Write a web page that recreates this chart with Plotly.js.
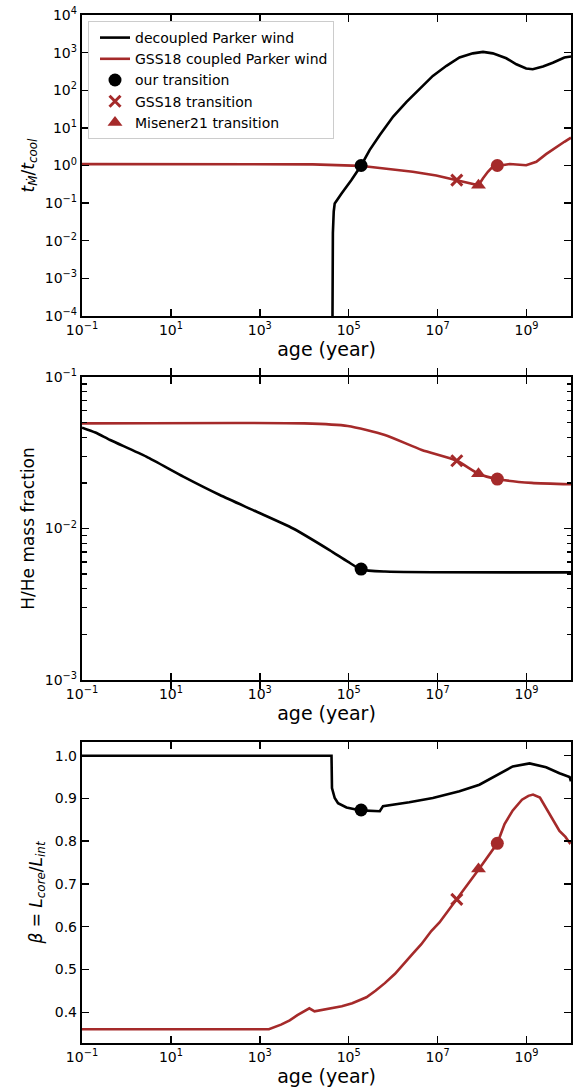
<!DOCTYPE html>
<html><head><meta charset="utf-8">
<script src="https://cdn.plot.ly/plotly-3.0.1.min.js"></script>
<style>html,body{margin:0;padding:0;background:#fff}#plot{width:575px;height:1088px}</style>
</head><body><div id="plot"></div>
<script>
// ---------- data ----------
// Panel 1: t_Mdot / t_cool
var p1DecAge = [4.2e4, 4.22e4, 4.3e4, 4.4e4, 4.6e4, 4.84e4, 6.9e4, 1.15e5, 1.9e5, 2.95e5, 5e5, 1e6, 2e6, 4e6, 7.8e6, 1.58e7, 3.1e7, 6.2e7, 1.05e8, 1.74e8, 3.5e8, 5.9e8, 9.8e8, 1.38e9, 2.34e9, 3.9e9, 5.5e9, 7.1e9, 1e10];
var p1DecVal = [1e-7, 1e-4, 1.5e-3, 0.016, 0.06, 0.098, 0.18, 0.41, 1.0, 2.57, 6.5, 20, 49, 112, 240, 447, 741, 955, 1047, 955, 708, 490, 380, 363, 427, 537, 631, 741, 790];
var p1CopAge = [0.1, 2.8e3, 1.55e4, 1.8e5, 7e5, 2.75e6, 9.3e6, 2.7e7, 8.3e7, 1.05e8, 1.35e8, 1.74e8, 2.3e8, 4.2e8, 9.8e8, 1.66e9, 2.75e9, 4.7e9, 7.1e9, 1e10];
var p1CopVal = [1.09, 1.09, 1.07, 0.98, 0.83, 0.68, 0.54, 0.41, 0.30, 0.46, 0.68, 0.93, 0.98, 1.1, 1.02, 1.26, 2.0, 3.16, 4.27, 5.5];
// Panel 2: H/He mass fraction
var p2DecAge = [0.1, 0.2, 0.43, 2.8, 19, 126, 850, 5.6e3, 3.7e4, 9.5e4, 1.9e5, 6.5e5, 1e10];
var p2DecVal = [0.0463, 0.043, 0.0384, 0.0298, 0.022, 0.01664, 0.0129, 0.0100, 0.0072, 0.00604, 0.00537, 0.0052, 0.00513];
var p2CopAge = [0.1, 1e4, 9.5e4, 6.5e5, 4.4e6, 2.7e7, 8.3e7, 2.2e8, 1.3e9, 1e10];
var p2CopVal = [0.0494, 0.0494, 0.0475, 0.0414, 0.033, 0.028, 0.023, 0.0212, 0.0200, 0.0196];
// Panel 3: beta = L_core / L_int
var p3DecAge = [0.1, 4.1e4, 4.2e4, 4.84e4, 5.75e4, 8.9e4, 1.86e5, 5e5, 5.9e5, 2.3e6, 7.8e6, 3.1e7, 8.7e7, 2.45e8, 4.9e8, 1.17e9, 2.75e9, 5.5e9, 9.3e9, 1e10];
var p3DecVal = [1.0, 1.0, 0.924, 0.901, 0.889, 0.879, 0.872, 0.870, 0.882, 0.891, 0.901, 0.917, 0.932, 0.957, 0.975, 0.982, 0.973, 0.959, 0.95, 0.94];
var p3CopAge = [0.1, 1.6e3, 3e3, 4.7e3, 7e3, 1e4, 1.3e4, 1.7e4, 2.5e4, 3.7e4, 7e4, 1.2e5, 2.5e5, 4e5, 6.5e5, 1.1e6, 1.7e6, 2.7e6, 4.3e6, 7.2e6, 1.1e7, 2.7e7, 8.3e7, 2.2e8, 3.2e8, 4.9e8, 7.9e8, 1.1e9, 1.4e9, 2e9, 2.75e9, 4e9, 5.5e9, 7.5e9, 9.3e9, 1e10];
var p3CopVal = [0.36, 0.36, 0.371, 0.381, 0.393, 0.402, 0.409, 0.402, 0.405, 0.408, 0.414, 0.421, 0.435, 0.45, 0.468, 0.49, 0.513, 0.536, 0.559, 0.59, 0.61, 0.664, 0.733, 0.795, 0.84, 0.872, 0.897, 0.906, 0.909, 0.902, 0.878, 0.85, 0.824, 0.81, 0.796, 0.80];
// transition markers (age, value per panel)
var ourDecAge = 1.9e5;   var ourDecVals = [1.0, 0.0054, 0.873];
var gssAge = 2.7e7;      var gssVals = [0.41, 0.028, 0.664];
var misAge = 8.3e7;      var misVals = [0.30, 0.023, 0.735];
var ourCopAge = 2.2e8;   var ourCopVals = [1.0, 0.0212, 0.795];
// tick labels
var xTickVals = [0.1, 10, 1e3, 1e5, 1e7, 1e9];
var xTickText = ['10<sup>\u22121</sup>', '10<sup>1</sup>', '10<sup>3</sup>', '10<sup>5</sup>', '10<sup>7</sup>', '10<sup>9</sup>'];
var y1TickVals = [1e-4, 1e-3, 1e-2, 1e-1, 1, 10, 100, 1e3, 1e4];
var y1TickText = ['10<sup>\u22124</sup>', '10<sup>\u22123</sup>', '10<sup>\u22122</sup>', '10<sup>\u22121</sup>', '10<sup>0</sup>', '10<sup>1</sup>', '10<sup>2</sup>', '10<sup>3</sup>', '10<sup>4</sup>'];
var y2TickVals = [1e-3, 1e-2, 1e-1];
var y2TickText = ['10<sup>\u22123</sup>', '10<sup>\u22122</sup>', '10<sup>\u22121</sup>'];
var y2MinorTickVals = [0.002, 0.003, 0.004, 0.005, 0.006, 0.007, 0.008, 0.009, 0.02, 0.03, 0.04, 0.05, 0.06, 0.07, 0.08, 0.09];
var legendNames = ['decoupled Parker wind', 'GSS18 coupled Parker wind', 'our transition', 'GSS18 transition', 'Misener21 transition'];

// ---------- styling ----------
var BLACK = '#000000', RED = '#a52a2a';
var FONT = 'DejaVu Sans, sans-serif';
var LW = 2.6;
var traces = [];
var axSuffix = ['', '2', '3'];
var decAges = [p1DecAge, p2DecAge, p3DecAge], decVals = [p1DecVal, p2DecVal, p3DecVal];
var copAges = [p1CopAge, p2CopAge, p3CopAge], copVals = [p1CopVal, p2CopVal, p3CopVal];
var shapes = ['linear', 'spline', 'linear'];
for (var i = 0; i < 3; i++) {
  var xa = 'x' + axSuffix[i], ya = 'y' + axSuffix[i];
  var leg = (i === 0);
  traces.push({x: decAges[i], y: decVals[i], xaxis: xa, yaxis: ya, mode: 'lines', name: legendNames[0], showlegend: leg,
    line: {color: BLACK, width: LW, shape: shapes[i], smoothing: 0.6}});
  traces.push({x: copAges[i], y: copVals[i], xaxis: xa, yaxis: ya, mode: 'lines', name: legendNames[1], showlegend: leg,
    line: {color: RED, width: LW, shape: shapes[i], smoothing: 0.6}});
  traces.push({x: [ourDecAge], y: [ourDecVals[i]], xaxis: xa, yaxis: ya, mode: 'markers', name: legendNames[2], showlegend: leg,
    marker: {color: BLACK, size: 13, symbol: 'circle'}});
  traces.push({x: [gssAge], y: [gssVals[i]], xaxis: xa, yaxis: ya, mode: 'markers', name: legendNames[3], showlegend: leg,
    marker: {color: RED, size: 11, symbol: 'x-thin', line: {color: RED, width: 3}}});
  traces.push({x: [misAge], y: [misVals[i]], xaxis: xa, yaxis: ya, mode: 'markers', name: legendNames[4], showlegend: leg,
    marker: {color: RED, size: 13, symbol: 'triangle-up'}});
  traces.push({x: [ourCopAge], y: [ourCopVals[i]], xaxis: xa, yaxis: ya, mode: 'markers', showlegend: false,
    marker: {color: RED, size: 13, symbol: 'circle'}});
}
// empty helper trace so the minor-tick axis of panel 2 is drawn
traces.push({x: [], y: [], xaxis: 'x2', yaxis: 'y4', mode: 'lines', showlegend: false, hoverinfo: 'skip'});

var W = 575, H = 1088;
var xDom = [82 / W, 571 / W];
function yDom(top, bot) { return [1 - bot / H, 1 - top / H]; }
var common = {showline: true, linecolor: BLACK, linewidth: 2.2, mirror: 'allticks', ticks: 'inside', ticklen: 7, tickwidth: 1.4,
  tickcolor: BLACK, showgrid: false, zeroline: false, tickfont: {family: FONT, size: 14, color: BLACK}};
function xAxis(anchor) {
  return Object.assign({}, common, {type: 'log', range: [-1, 10], domain: xDom, anchor: anchor,
    tickvals: xTickVals, ticktext: xTickText,
    title: {text: 'age (year)', font: {family: FONT, size: 19, color: BLACK}, standoff: 2}});
}
var layout = {
  width: W, height: H, margin: {l: 0, r: 0, t: 0, b: 0}, paper_bgcolor: '#fff', plot_bgcolor: '#fff',
  font: {family: FONT, color: BLACK},
  showlegend: true,
  legend: {x: 88 / W, y: 1 - 21 / H, xanchor: 'left', yanchor: 'top', bgcolor: 'rgba(255,255,255,0.85)', bordercolor: '#cccccc', borderwidth: 1,
    font: {family: FONT, size: 14, color: BLACK}, tracegroupgap: 0, indentation: 6},
  xaxis: xAxis('y'), xaxis2: xAxis('y2'), xaxis3: xAxis('y3'),
  yaxis: Object.assign({}, common, {type: 'log', range: [-4, 4], domain: yDom(15, 316), anchor: 'x',
    tickvals: y1TickVals, ticktext: y1TickText,
    title: {text: '<i>t</i><sub><i>\u1E40</i></sub>/<i>t</i><sub><i>cool</i></sub>', font: {family: FONT, size: 17, color: BLACK}, standoff: 6}}),
  yaxis2: Object.assign({}, common, {type: 'log', range: [-3, -1], domain: yDom(377, 680), anchor: 'x2',
    tickvals: y2TickVals, ticktext: y2TickText,
    title: {text: 'H/He mass fraction', font: {family: FONT, size: 17, color: BLACK}, standoff: 6}}),
  // minor ticks of panel 2 drawn by an overlaying axis with no labels
  yaxis4: {type: 'log', range: [-3, -1], overlaying: 'y2', anchor: 'x2', side: 'left', tickvals: y2MinorTickVals,
    ticks: 'inside', ticklen: 4.5, tickwidth: 1.3, tickcolor: BLACK, mirror: 'allticks', showline: true, linecolor: BLACK, linewidth: 2.2,
    showticklabels: false, showgrid: false, zeroline: false},
  yaxis3: Object.assign({}, common, {type: 'linear', range: [0.328, 1.032], domain: yDom(742, 1043), anchor: 'x3',
    dtick: 0.1, tick0: 0, tickformat: '.1f',
    title: {text: '<i>\u03B2</i> = <i>L</i><sub><i>core</i></sub>/<i>L</i><sub><i>int</i></sub>', font: {family: FONT, size: 17, color: BLACK}, standoff: 8}})
};
Plotly.newPlot('plot', traces, layout, {staticPlot: true, displayModeBar: false});
</script></body></html>
